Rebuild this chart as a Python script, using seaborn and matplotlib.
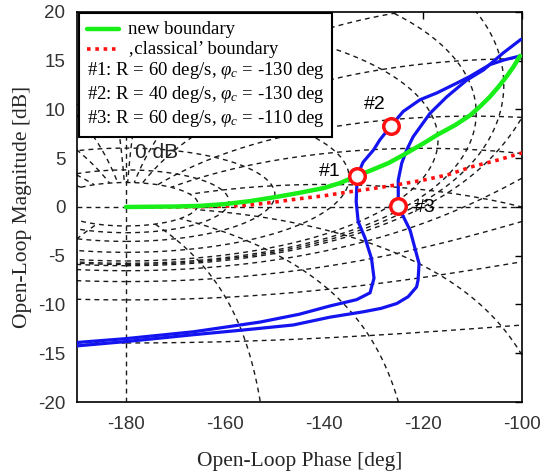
import numpy as np
import pandas as pd
import matplotlib
matplotlib.use("Agg")
import matplotlib.pyplot as plt
import seaborn as sns
from matplotlib.offsetbox import DrawingArea, TextArea, HPacker, VPacker, AnchoredOffsetbox
from matplotlib.lines import Line2D

# ---------------- data ----------------
green_phase = [-180, -170, -165, -160, -155, -150, -145, -140, -136.8, -133.3, -130.7, -127, -124,
               -120, -117.2, -113.5, -110.5, -108.5, -106.5, -104.8, -103.1, -101.7, -100.4]
green_gain = [0, 0.05, 0.12, 0.3, 0.6, 1.0, 1.45, 1.95, 2.45, 3.2, 3.72, 4.5, 5.33,
              6.5, 7.38, 8.4, 9.4, 10.3, 11.3, 12.3, 13.4, 14.4, 15.5]

red_phase = [-180, -170, -165, -160, -155, -150, -145, -140, -135, -130, -125, -120, -115, -110, -105, -100]
red_gain = [0, 0, 0.02, 0.08, 0.2, 0.5, 0.85, 1.15, 1.55, 1.9, 2.3, 2.75, 3.3, 4.15, 4.8, 5.55]

blue1_phase = [-100.3, -103.5, -106.5, -110.5, -113.2, -117.2, -120.6, -124, -126.5, -128.7, -130,
               -132.1, -133.3, -133.5, -133.1, -131.7, -130.4, -129.9, -130.7, -133.4, -138.8,
               -145, -152.9, -166.4, -180, -190]
blue1_gain = [15.5, 15.1, 14.6, 13.4, 12.7, 11.7, 11.0, 9.8, 8.3, 6.9, 5.85,
              4.6, 3.2, 0.55, -1.5, -3.2, -5.3, -7.3, -8.8, -9.5, -10.15,
              -11.0, -11.8, -12.8, -13.5, -13.9]

blue2_phase = [-100.2, -103.8, -107.8, -111.2, -115.2, -118.6, -122, -123.3, -124.3, -125, -125, -125,
               -124.3, -122.6, -120.8, -121, -121.3, -123, -125.3, -128.5, -132.1, -138.8, -146.2,
               -156, -166.4, -180, -190]
blue2_gain = [17.2, 15.8, 14.05, 13.0, 11.3, 9.6, 7.2, 5.85, 4.5, 2.77, 1.06, 0.1,
              -0.65, -2.4, -5.8, -7.5, -8.2, -9.2, -9.9, -10.4, -10.75, -11.3, -12.1,
              -12.6, -13.1, -13.8, -14.25]

marker_labels = ["#1", "#2", "#3"]
marker_phase = [-133.3, -126.5, -125.0]
marker_gain = [3.2, 8.3, 0.1]

legend_labels = ["new boundary", "\u201aclassical\u2019 boundary",
                 r"#1: R = 60 deg/s, $\varphi_c$ = -130 deg",
                 r"#2: R = 40 deg/s, $\varphi_c$ = -130 deg",
                 r"#3: R = 60 deg/s, $\varphi_c$ = -110 deg"]

x_ticks = [-180, -160, -140, -120, -100]
y_ticks = [-20, -15, -10, -5, 0, 5, 10, 15, 20]

# Nichols grid levels (closed-loop magnitude dB, closed-loop phase deg)
m_levels = [12, 9, 6, 3, 1, 0.5, 0.25, 0, -1, -3, -6, -12, -20]
n_levels = [-1, -5, -10, -20, -30, -50, -90, -120, -150,
             -210, -240, -270, -310, -330, -340, -350, -355, -359]
n_max_db = 12

# ---------------- style ----------------
sns.set_theme(style="white")
plt.rcParams["font.family"] = ["Liberation Sans", "DejaVu Sans"]
plt.rcParams["axes.unicode_minus"] = False
plt.rcParams["mathtext.fontset"] = "custom"
plt.rcParams["mathtext.rm"] = "Liberation Serif"
plt.rcParams["mathtext.it"] = "Liberation Serif:italic"
plt.rcParams["mathtext.bf"] = "Liberation Serif:bold"

fig = plt.figure(figsize=(5.48, 4.72), dpi=100)
ax = fig.add_axes([0.1396, 0.1483, 0.813, 0.8263])

grid_kw = dict(color="0.1", lw=1.0, dashes=(3.5, 3), zorder=1)


def plot_broken(ph, g):
    ph = np.asarray(ph)
    g = np.asarray(g)
    brk = np.where(np.abs(np.diff(ph)) > 60)[0]
    start = 0
    for b in list(brk) + [len(ph) - 1]:
        seg = slice(start, b + 1)
        if b + 1 - start > 1:
            ax.plot(ph[seg], g[seg], **grid_kw)
        start = b + 1


def to_nichols(T):
    L = T / (1 - T)
    ph = np.mod(np.degrees(np.angle(L)), 360) - 360
    g = 20 * np.log10(np.abs(L))
    return ph, g


for mdb in m_levels:
    M = 10 ** (mdb / 20)
    phi = np.linspace(-np.pi, np.pi, 4001)[1:-1]
    if abs(M - 1) < 1e-9:
        phi = phi[np.abs(phi) > 1e-3]
    ph, g = to_nichols(M * np.exp(1j * phi))
    plot_broken(ph, g)

for ndeg in n_levels:
    m = np.logspace(-3, n_max_db / 20, 4001)
    ph, g = to_nichols(m * np.exp(1j * np.radians(ndeg)))
    plot_broken(ph, g)

ax.axhline(0, **grid_kw)
ax.axvline(-180, **grid_kw)
ax.text(-178.2, 5.6, "0 dB", fontsize=15, color="0.15", va="center", ha="left", zorder=1)

# ---------------- curves ----------------
sns.lineplot(x=blue1_phase, y=blue1_gain, sort=False, estimator=None, ax=ax,
             color="#1414f0", lw=2.3, zorder=3)
sns.lineplot(x=blue2_phase, y=blue2_gain, sort=False, estimator=None, ax=ax,
             color="#1414f0", lw=2.3, zorder=3)
sns.lineplot(x=red_phase, y=red_gain, sort=False, estimator=None, ax=ax,
             color="#ff1010", lw=2.6, linestyle=(0, (1, 1.3)), zorder=4)
sns.lineplot(x=green_phase, y=green_gain, sort=False, estimator=None, ax=ax,
             color="#18ee18", lw=3.2, zorder=5)
sns.scatterplot(x=marker_phase, y=marker_gain, ax=ax, s=125, facecolor="white",
                edgecolor="#ff1010", linewidth=2.5, zorder=6)

offsets = [(-5.6, 0.4), (-3.2, 2.2), (5.4, -0.2)]
for lab, px, py, (dx, dy) in zip(marker_labels, marker_phase, marker_gain, offsets):
    ax.text(px + dx, py + dy, lab, fontsize=14, ha="center", va="center", color="black", zorder=7)

# ---------------- axes ----------------
ax.set_xlim(-190, -100)
ax.set_ylim(-20, 20)
ax.set_xticks(x_ticks)
ax.set_yticks(y_ticks)
ax.tick_params(direction="in", length=5, width=1, top=True, right=True,
               labelsize=13.5, colors="black")
ax.tick_params(axis="x", pad=10)
ax.tick_params(axis="y", pad=8)
for lab in ax.get_xticklabels() + ax.get_yticklabels():
    lab.set_color("#333333")
for sp in ax.spines.values():
    sp.set_visible(True)
    sp.set_color("black")
    sp.set_linewidth(1.2)
ax.set_xlabel("Open-Loop Phase [deg]", fontsize=15.5, family="Liberation Serif", labelpad=14)
ax.set_ylabel("Open-Loop Magnitude [dB]", fontsize=15.5, family="Liberation Serif", labelpad=4)

# ---------------- legend ----------------
tp = dict(fontsize=13.5, family="Liberation Serif", color="black")
rows = []
for lab, col, ls, lw in [(legend_labels[0], "#18ee18", "-", 3.2),
                         (legend_labels[1], "#ff1010", (0, (1, 1.3)), 2.6)]:
    da = DrawingArea(23, 10, 0, 0)
    da.add_artist(Line2D([0, 23], [5, 5], color=col, lw=lw, linestyle=ls))
    rows.append(HPacker(children=[da, TextArea(lab, textprops=tp)], align="center", pad=0, sep=7))
for lab in legend_labels[2:]:
    rows.append(HPacker(children=[TextArea(lab, textprops=tp)], align="center", pad=0, sep=0))
vp = VPacker(children=rows, align="left", pad=0, sep=2.0)
ab = AnchoredOffsetbox(loc="upper left", child=vp, pad=0.5, borderpad=0.0, frameon=True,
                       bbox_to_anchor=(0.006, 0.997), bbox_transform=ax.transAxes)
ab.patch.set_edgecolor("black")
ab.patch.set_linewidth(1.5)
ab.patch.set_boxstyle("square", pad=0)
ab.set_zorder(10)
ax.add_artist(ab)

fig.savefig("out.png", dpi=100, facecolor="white")
